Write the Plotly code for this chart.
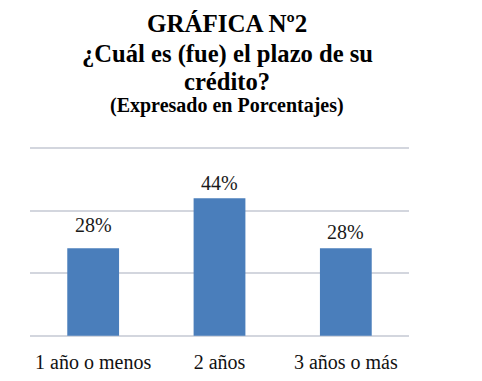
import plotly.graph_objects as go

categories = ["1 año o menos", "2 años", "3 años o más"]
values = [28, 44, 28]
labels = ["28%", "44%", "28%"]
label_shift = [22, 14, 15]
y_ticks = [0, 20, 40, 60]

# page body has an 8px default margin; compensate
OFF = 8
W, H = 482, 381
ml, mr, mt, mb = 30 - OFF, 73 + OFF, 147 - OFF, 44 + OFF
ph = H - mt - mb
pw = W - ml - mr

def px_to_paper_y(py):
    return (H - mb - (py - OFF)) / ph

def px_to_paper_x(px):
    return ((px - OFF) - ml) / pw

fig = go.Figure()
fig.add_trace(go.Bar(
    x=categories, y=values,
    marker=dict(color="#4a7ebb", line=dict(width=0)),
    width=0.41,
    hoverinfo="skip",
))

serif = "Liberation Serif"

for c, v, t, s in zip(categories, values, labels, label_shift):
    fig.add_annotation(x=c, y=v, text=t, showarrow=False, yanchor="bottom",
                       yshift=s - 12, font=dict(family=serif, size=20, color="#1a1a1a"))

titles = [
    ("<b>GRÁFICA Nº2</b>", 23, 25),
    ("<b>¿Cuál es (fue) el plazo de su</b>", 54, 24.6),
    ("<b>crédito?</b>", 81.5, 24.6),
    ("<b>(Expresado en Porcentajes)</b>", 105.5, 20),
]
for t, py, fs in titles:
    fig.add_annotation(x=px_to_paper_x(227), y=px_to_paper_y(py), xref="paper", yref="paper",
                       text=t, showarrow=False, xanchor="center", yanchor="middle",
                       borderpad=0,
                       font=dict(family=serif, size=fs, color="#000"))

fig.update_layout(
    width=W, height=H,
    margin=dict(l=ml, r=mr, t=mt, b=mb),
    paper_bgcolor="white", plot_bgcolor="white",
    showlegend=False,
    bargap=0.59,
    font=dict(family=serif),
    xaxis=dict(showgrid=False, showline=False, zeroline=False, ticks="", automargin=False,
               tickfont=dict(family=serif, size=20, color="#111"), ticklabelstandoff=11),
    yaxis=dict(range=[-0.4, 60.4], tickvals=y_ticks, showticklabels=False, showgrid=True,
               automargin=False,
               gridcolor="#d3d6de", gridwidth=1.5, zeroline=False, showline=False),
)

fig.write_html("out.html")
